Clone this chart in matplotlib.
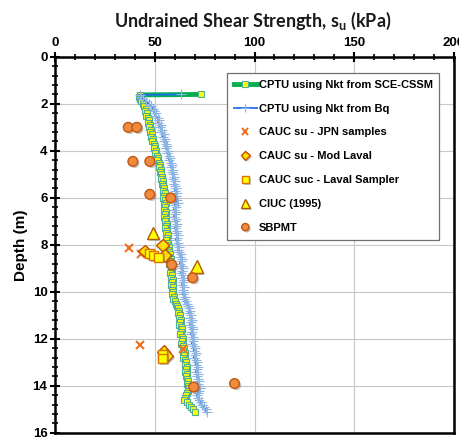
import matplotlib
matplotlib.use("Agg")
import matplotlib.pyplot as plt
from matplotlib.ticker import MultipleLocator
import matplotlib.patheffects as pe

# ---------------- data ----------------
profile_depth = [1.6, 1.62,
                 1.7, 1.8, 1.9, 2.0, 2.1, 2.2, 2.3, 2.4, 2.5, 2.6,
                 2.7, 2.8, 2.9, 3.0, 3.1, 3.2, 3.3, 3.4, 3.5, 3.6,
                 3.7, 3.8, 3.9, 4.0, 4.1, 4.2, 4.3, 4.4, 4.5, 4.6,
                 4.7, 4.8, 4.9, 5.0, 5.1, 5.2, 5.3, 5.4, 5.5, 5.6,
                 5.7, 5.8, 5.9, 6.0, 6.1, 6.2, 6.3, 6.4, 6.5, 6.6,
                 6.7, 6.8, 6.9, 7.0, 7.1, 7.2, 7.3, 7.4, 7.5, 7.6,
                 7.7, 7.8, 7.9, 8.0, 8.1, 8.2, 8.3, 8.4, 8.5, 8.6,
                 8.7, 8.8, 8.9, 9.0, 9.1, 9.2, 9.3, 9.4, 9.5, 9.6,
                 9.7, 9.8, 9.9, 10.0, 10.1, 10.2, 10.3, 10.4, 10.5, 10.6,
                 10.7, 10.8, 10.9, 11.0, 11.1, 11.2, 11.3, 11.4, 11.5, 11.6,
                 11.7, 11.8, 11.9, 12.0, 12.1, 12.2, 12.3, 12.4, 12.5, 12.6,
                 12.7, 12.8, 12.9, 13.0, 13.1, 13.2, 13.3, 13.4, 13.5, 13.6,
                 13.7, 13.8, 13.9, 14.0, 14.1, 14.2, 14.3, 14.4, 14.5, 14.6,
                 14.7, 14.8, 14.9, 15.0, 15.1]

su_sce_cssm = [73, 42.5,
               42, 42.5, 43, 44, 44.5, 45.5, 45, 46, 45.5, 46.5,
               47, 46.5, 47.5, 47, 48, 47.5, 48.5, 48, 49, 48.5,
               49.5, 50, 49.5, 50.5, 50, 51, 51.5, 51, 52, 52.5,
               52, 53, 52.5, 53, 53.5, 53, 54, 53.5, 54, 54.5,
               54, 55, 54.5, 54, 55, 55.5, 54.5, 55, 54.5, 55.5,
               55, 54.5, 55.5, 55, 56, 55.5, 55, 56, 55.5, 56.5,
               56, 55.5, 56.5, 56, 57, 56.5, 57, 57.5, 57, 58,
               57.5, 57, 58, 58.5, 58, 57.5, 58.5, 58, 59, 58.5,
               58, 59, 58.5, 59, 58.5, 59.5, 59, 60, 60.5, 61,
               61.5, 62, 61.5, 62.5, 62, 63, 62.5, 62, 63, 63.5,
               63, 62.5, 63.5, 64, 63.5, 63, 64, 64.5, 64, 65,
               64.5, 64, 65, 65.5, 65, 66, 65.5, 65, 66, 65.5,
               66, 66.5, 66, 66.5, 67, 66.5, 66, 65.5, 65, 64.5,
               66, 67, 68, 69, 70]

su_bq = [63, 42.5,
         43, 44, 45.5, 47, 48, 49, 49.5, 50.5, 50, 51.5,
         52, 51.5, 53, 52.5, 53.5, 53, 54.5, 54, 55, 54.5,
         55.5, 56, 55.5, 56.5, 56, 57, 57.5, 57, 58, 58.5,
         58, 59, 58.5, 59, 59.5, 59, 60, 59.5, 60, 60.5,
         60, 61, 60.5, 60, 61, 61.5, 60, 60.5, 59.5, 60.5,
         60, 59.5, 60.5, 60, 61, 60.5, 60, 61, 60.5, 61.5,
         61, 60.5, 61.5, 61, 62, 61.5, 62, 63, 62.5, 63.5,
         63, 62.5, 63.5, 64, 63.5, 63, 64, 63.5, 64.5, 64,
         63.5, 64.5, 64, 64.5, 64, 65, 64.5, 65.5, 66, 66.5,
         67, 67.5, 67, 68, 67.5, 68.5, 68, 67.5, 68.5, 69,
         68.5, 68, 69, 69.5, 69, 68.5, 69.5, 70, 69.5, 70.5,
         70, 69.5, 70.5, 71, 70.5, 71.5, 71, 70.5, 71.5, 71,
         71.5, 72, 71.5, 72, 72.5, 72, 71.5, 71, 71.5, 72,
         73, 73.5, 74.5, 75.5, 76]

jpn_su = [37, 43, 42.5, 64]
jpn_depth = [8.14, 8.38, 12.26, 12.42]

modlaval_su = [45, 54, 55, 54.5, 56]
modlaval_depth = [8.26, 8.02, 8.45, 12.55, 12.72]

laval_su = [47.5, 49.5, 52, 54, 54]
laval_depth = [8.38, 8.45, 8.52, 12.68, 12.85]

ciuc_su = [49, 71]
ciuc_depth = [7.5, 8.92]

sbpmt_su = [36.7, 41, 39, 47.5, 47.5, 58, 58.5, 69, 69.5, 90]
sbpmt_depth = [3.0, 3.0, 4.45, 4.45, 5.85, 6.0, 8.85, 9.4, 14.05, 13.9]

x_ticks = [0, 50, 100, 150, 200]
y_ticks = [0, 2, 4, 6, 8, 10, 12, 14, 16]

# ---------------- figure ----------------
fig = plt.figure(figsize=(4.59, 4.44), dpi=100)
ax = fig.add_axes([0.12, 0.025, 0.869, 0.847])

shadow = [pe.SimplePatchShadow(offset=(1.3, -1.3), shadow_rgbFace="#707070", alpha=0.4),
          pe.Normal()]

ax.plot(su_sce_cssm, profile_depth, color="#00B050", lw=3.5, marker="s", ms=5.0,
        mfc="#FFFF00", mec="#4FAF96", mew=0.8, zorder=3,
        label="CPTU using Nkt from SCE-CSSM")
ax.plot(su_bq, profile_depth, color="#1F6FE8", lw=1.3, marker="+", ms=7,
        mec="#8DB4E2", mew=0.8, zorder=4,
        label="CPTU using Nkt from Bq")

ax.plot(jpn_su, jpn_depth, ls="none", marker="x", ms=6, mec="#F07020", mew=1.5,
        zorder=6, label="CAUC su - JPN samples", path_effects=shadow)
ax.plot(modlaval_su, modlaval_depth, ls="none", marker="D", ms=6.5, mfc="#FFE000",
        mec="#C05000", mew=1.0, zorder=6, label="CAUC su - Mod Laval",
        path_effects=shadow)
ax.plot(laval_su, laval_depth, ls="none", marker="s", ms=6.5, mfc="#FFFF00",
        mec="#E07000", mew=1.0, zorder=6, label="CAUC suc - Laval Sampler",
        path_effects=shadow)
ax.plot(ciuc_su, ciuc_depth, ls="none", marker="^", ms=9, mfc="#FFFF00",
        mec="#B05A00", mew=1.0, zorder=6, label="CIUC (1995)", path_effects=shadow)
ax.plot(sbpmt_su, sbpmt_depth, ls="none", marker="o", ms=7, mfc="#F08A3C",
        mec="#C05810", mew=1.0, zorder=6, label="SBPMT", path_effects=shadow)

ax.set_xlim(0, 200)
ax.set_ylim(16, 0)
ax.xaxis.set_major_locator(MultipleLocator(50))
ax.xaxis.set_minor_locator(MultipleLocator(10))
ax.yaxis.set_major_locator(MultipleLocator(2))
ax.yaxis.set_minor_locator(MultipleLocator(0.4))
ax.set_xticks(x_ticks)
ax.set_yticks(y_ticks)
ax.xaxis.tick_top()
ax.tick_params(axis="both", which="major", direction="inout", length=7, width=1.5,
               labelsize=9.5)
ax.tick_params(axis="both", which="minor", direction="inout", length=4, width=1.2)
ax.tick_params(axis="x", which="both", bottom=False, top=True, pad=2)
ax.tick_params(axis="y", which="both", right=False, pad=2)
for lab in ax.get_xticklabels() + ax.get_yticklabels():
    lab.set_fontweight("bold")
    lab.set_family("Liberation Sans")

for s in ax.spines.values():
    s.set_linewidth(1.8)
    s.set_color("black")

ax.grid(True, which="major", color="#C8C8C8", lw=0.8)
ax.set_axisbelow(True)

ax.set_ylabel("Depth (m)", fontsize=11, fontweight="bold", family="Liberation Sans",
              labelpad=3)

fig.text(0.55, 0.978, "Undrained Shear Strength, s$_\\mathregular{u}$ (kPa)",
         ha="center", va="top", fontsize=13, fontweight="bold", family="Lato",
         color="#1A1A1A")

leg = ax.legend(loc="upper left", bbox_to_anchor=(0.431, 0.957), borderaxespad=0,
                numpoints=1, handlelength=2.1, handletextpad=0.15, markerscale=0.75,
                labelspacing=1.25, borderpad=0.6, fancybox=False, framealpha=1,
                edgecolor="#707070",
                prop={"family": "Liberation Sans", "weight": "bold", "size": 8})
leg.get_frame().set_linewidth(0.9)

fig.savefig("out.png", dpi=100)
